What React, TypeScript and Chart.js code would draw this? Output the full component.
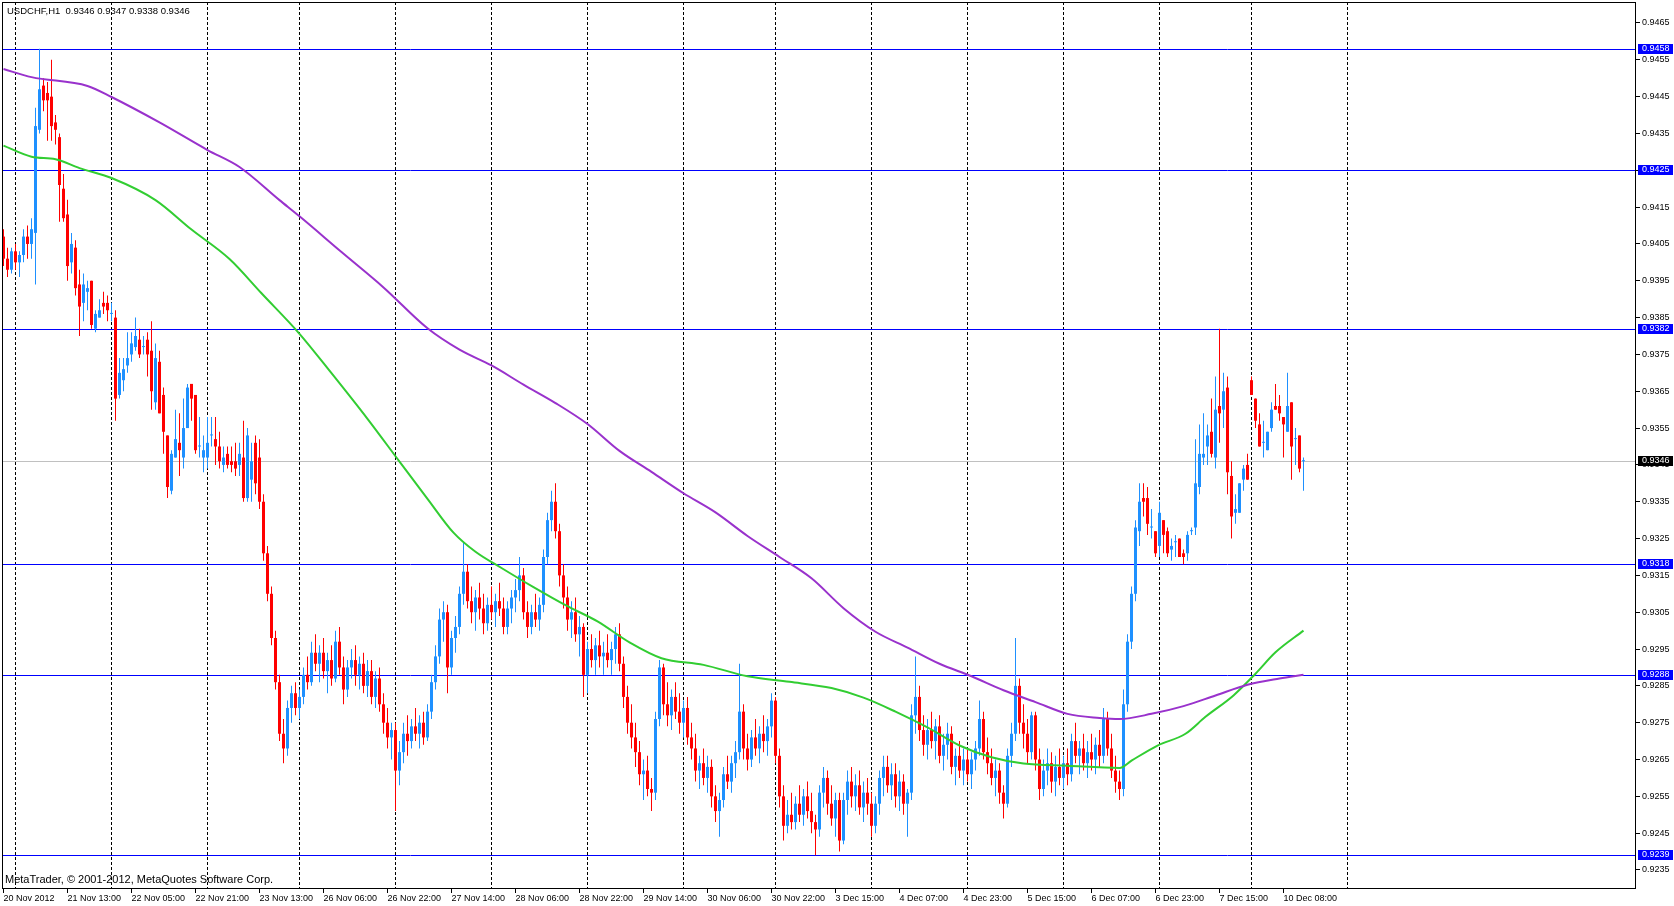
import React, { useEffect, useRef } from 'react';
import { Chart, registerables } from 'chart.js';

Chart.register(...registerables);

const chartTitle = 'USDCHF,H1  0.9346 0.9347 0.9338 0.9346';
const copyright = 'MetaTrader, © 2001-2012, MetaQuotes Software Corp.';

// hourly candles, [open, high, low, close] in pips (x 0.0001), first bar 20 Nov 21:00
const candles: number[][] = [
  [9407, 9409, 9399, 9401], [9401, 9404, 9396, 9398], [9398, 9404, 9397, 9403], [9403, 9405, 9398, 9400],
  [9400, 9403, 9396, 9402], [9402, 9409, 9400, 9407], [9407, 9410, 9401, 9405], [9405, 9412, 9401, 9409],
  [9408, 9442, 9394, 9437], [9436, 9458, 9435, 9447], [9448, 9450, 9441, 9444], [9446, 9449, 9433, 9444],
  [9445, 9455, 9433, 9437], [9438, 9440, 9432, 9436], [9434, 9435, 9411, 9421], [9420, 9424, 9411, 9412],
  [9413, 9417, 9395, 9399], [9400, 9408, 9397, 9405], [9404, 9406, 9391, 9393], [9394, 9398, 9380, 9388],
  [9389, 9397, 9384, 9394], [9392, 9395, 9387, 9393], [9395, 9395, 9382, 9383], [9382, 9387, 9381, 9386],
  [9385, 9390, 9385, 9387], [9389, 9392, 9386, 9388], [9389, 9391, 9384, 9387], [9386, 9389, 9384, 9386],
  [9385, 9387, 9357, 9363], [9364, 9374, 9363, 9370], [9368, 9374, 9365, 9371], [9372, 9381, 9370, 9374],
  [9375, 9381, 9373, 9378], [9377, 9385, 9376, 9380], [9379, 9382, 9374, 9375], [9377, 9380, 9375, 9377],
  [9379, 9381, 9369, 9375], [9376, 9384, 9360, 9365], [9362, 9378, 9360, 9374], [9373, 9376, 9359, 9359],
  [9364, 9366, 9348, 9354], [9353, 9353, 9336, 9339], [9338, 9349, 9337, 9348], [9347, 9360, 9347, 9352],
  [9351, 9359, 9342, 9349], [9347, 9363, 9344, 9355], [9355, 9367, 9355, 9366], [9367, 9367, 9357, 9363],
  [9364, 9364, 9348, 9349], [9350, 9358, 9347, 9350], [9347, 9353, 9343, 9349], [9347, 9358, 9344, 9351],
  [9353, 9358, 9350, 9353], [9352, 9358, 9345, 9350], [9350, 9354, 9344, 9346], [9345, 9350, 9343, 9347],
  [9348, 9350, 9344, 9345], [9346, 9350, 9343, 9345], [9346, 9351, 9342, 9344], [9345, 9351, 9342, 9348],
  [9347, 9357, 9335, 9336], [9336, 9355, 9335, 9353], [9341, 9351, 9335, 9346], [9351, 9353, 9337, 9340],
  [9347, 9352, 9333, 9335], [9335, 9337, 9319, 9321], [9321, 9323, 9308, 9310], [9310, 9312, 9296, 9298],
  [9298, 9300, 9284, 9286], [9286, 9288, 9270, 9272], [9272, 9276, 9264, 9268], [9268, 9281, 9266, 9279],
  [9279, 9285, 9275, 9283], [9283, 9286, 9277, 9279], [9279, 9284, 9276, 9282], [9282, 9290, 9280, 9288],
  [9288, 9293, 9284, 9286], [9286, 9297, 9285, 9294], [9294, 9299, 9289, 9291], [9291, 9296, 9286, 9294],
  [9294, 9298, 9287, 9289], [9289, 9294, 9283, 9292], [9292, 9296, 9285, 9287], [9287, 9300, 9286, 9297],
  [9297, 9301, 9288, 9290], [9290, 9293, 9280, 9284], [9284, 9292, 9282, 9290], [9290, 9295, 9287, 9292],
  [9292, 9296, 9285, 9288], [9288, 9293, 9284, 9291], [9291, 9294, 9283, 9285], [9285, 9292, 9282, 9289],
  [9289, 9292, 9280, 9282], [9282, 9289, 9279, 9287], [9287, 9290, 9278, 9280], [9280, 9283, 9272, 9275],
  [9275, 9279, 9268, 9271], [9271, 9275, 9265, 9273], [9273, 9275, 9251, 9262], [9262, 9270, 9258, 9267],
  [9267, 9275, 9264, 9272], [9272, 9277, 9266, 9270], [9270, 9276, 9268, 9274], [9274, 9279, 9270, 9272],
  [9272, 9277, 9268, 9275], [9275, 9278, 9269, 9271], [9271, 9280, 9270, 9278], [9278, 9288, 9276, 9286],
  [9286, 9296, 9284, 9293], [9293, 9306, 9291, 9303], [9303, 9308, 9297, 9305], [9305, 9307, 9283, 9290],
  [9290, 9300, 9288, 9298], [9298, 9304, 9294, 9301], [9301, 9312, 9299, 9310], [9310, 9324, 9307, 9316],
  [9316, 9318, 9306, 9308], [9308, 9312, 9302, 9305], [9305, 9311, 9300, 9309], [9309, 9313, 9303, 9306],
  [9306, 9310, 9299, 9302], [9302, 9309, 9300, 9307], [9307, 9312, 9303, 9305], [9305, 9310, 9301, 9308],
  [9308, 9313, 9304, 9306], [9306, 9309, 9299, 9301], [9301, 9308, 9299, 9306], [9306, 9311, 9302, 9309],
  [9309, 9314, 9305, 9311], [9311, 9320, 9308, 9315], [9315, 9317, 9303, 9305], [9305, 9308, 9298, 9301],
  [9301, 9307, 9299, 9305], [9305, 9310, 9301, 9303], [9303, 9309, 9300, 9307], [9307, 9322, 9305, 9320],
  [9320, 9332, 9318, 9330], [9330, 9338, 9327, 9335], [9335, 9340, 9325, 9327], [9327, 9329, 9312, 9315],
  [9315, 9318, 9306, 9309], [9309, 9312, 9300, 9303], [9303, 9308, 9298, 9305], [9305, 9309, 9297, 9299],
  [9299, 9304, 9293, 9301], [9301, 9302, 9282, 9288], [9288, 9297, 9283, 9295], [9295, 9299, 9290, 9292],
  [9292, 9298, 9288, 9296], [9296, 9300, 9290, 9293], [9293, 9297, 9288, 9294], [9294, 9299, 9290, 9292],
  [9292, 9297, 9288, 9295], [9295, 9301, 9291, 9299], [9299, 9302, 9289, 9291], [9291, 9293, 9279, 9282],
  [9282, 9285, 9272, 9275], [9275, 9280, 9268, 9271], [9271, 9275, 9263, 9267], [9267, 9270, 9258, 9261],
  [9261, 9265, 9254, 9262], [9262, 9266, 9255, 9257], [9257, 9260, 9251, 9256], [9256, 9278, 9254, 9276],
  [9276, 9292, 9274, 9290], [9290, 9291, 9277, 9280], [9280, 9286, 9274, 9277], [9277, 9284, 9273, 9282],
  [9282, 9286, 9276, 9278], [9278, 9283, 9272, 9275], [9275, 9281, 9271, 9279], [9279, 9282, 9269, 9271],
  [9271, 9275, 9265, 9268], [9268, 9272, 9259, 9262], [9262, 9266, 9257, 9264], [9264, 9268, 9258, 9260],
  [9260, 9266, 9256, 9263], [9263, 9265, 9252, 9255], [9255, 9258, 9248, 9251], [9251, 9256, 9244, 9254],
  [9254, 9263, 9252, 9261], [9261, 9266, 9257, 9259], [9259, 9266, 9256, 9264], [9264, 9270, 9260, 9267],
  [9267, 9291, 9265, 9278], [9278, 9280, 9265, 9268], [9268, 9272, 9262, 9265], [9265, 9273, 9263, 9271],
  [9271, 9276, 9266, 9268], [9268, 9274, 9264, 9272], [9272, 9277, 9267, 9270], [9270, 9276, 9266, 9274],
  [9274, 9283, 9271, 9281], [9281, 9282, 9264, 9266], [9266, 9268, 9252, 9255], [9255, 9258, 9243, 9247],
  [9247, 9254, 9245, 9250], [9250, 9256, 9246, 9248], [9248, 9255, 9246, 9253], [9253, 9258, 9248, 9250],
  [9250, 9257, 9247, 9255], [9255, 9259, 9249, 9251], [9251, 9256, 9245, 9248], [9248, 9250, 9239, 9246],
  [9246, 9258, 9244, 9256], [9256, 9263, 9252, 9260], [9260, 9262, 9250, 9253], [9253, 9258, 9247, 9249],
  [9249, 9256, 9244, 9254], [9254, 9256, 9240, 9243], [9243, 9256, 9242, 9254], [9254, 9262, 9250, 9259],
  [9259, 9263, 9252, 9255], [9255, 9261, 9251, 9258], [9258, 9262, 9250, 9252], [9252, 9259, 9248, 9256],
  [9256, 9260, 9250, 9253], [9253, 9256, 9244, 9247], [9247, 9255, 9245, 9253], [9253, 9262, 9250, 9260],
  [9260, 9266, 9255, 9263], [9263, 9266, 9256, 9258], [9258, 9264, 9254, 9261], [9261, 9264, 9252, 9255],
  [9255, 9262, 9251, 9259], [9259, 9261, 9250, 9253], [9253, 9257, 9244, 9256], [9256, 9280, 9254, 9277],
  [9277, 9293, 9272, 9282], [9282, 9285, 9270, 9273], [9273, 9277, 9266, 9269], [9269, 9276, 9265, 9273],
  [9273, 9278, 9268, 9270], [9270, 9276, 9265, 9274], [9274, 9277, 9264, 9266], [9266, 9272, 9262, 9269],
  [9269, 9275, 9265, 9272], [9272, 9274, 9261, 9263], [9263, 9268, 9258, 9266], [9266, 9270, 9260, 9262],
  [9262, 9268, 9258, 9265], [9265, 9268, 9259, 9261], [9261, 9267, 9257, 9265], [9265, 9270, 9262, 9268],
  [9268, 9281, 9266, 9276], [9276, 9278, 9265, 9267], [9267, 9271, 9261, 9264], [9264, 9268, 9258, 9260],
  [9260, 9265, 9255, 9262], [9262, 9264, 9253, 9256], [9256, 9258, 9249, 9253], [9253, 9268, 9252, 9266],
  [9266, 9275, 9263, 9272], [9272, 9298, 9270, 9285], [9285, 9287, 9272, 9275], [9275, 9280, 9268, 9272],
  [9272, 9276, 9264, 9267], [9267, 9278, 9265, 9277], [9277, 9278, 9262, 9265], [9265, 9268, 9254, 9257],
  [9257, 9265, 9255, 9262], [9262, 9268, 9258, 9264], [9264, 9267, 9256, 9259], [9259, 9266, 9255, 9263],
  [9263, 9268, 9258, 9260], [9260, 9266, 9257, 9264], [9264, 9268, 9258, 9261], [9261, 9272, 9259, 9270],
  [9270, 9275, 9264, 9266], [9266, 9270, 9261, 9268], [9268, 9272, 9262, 9264], [9264, 9270, 9260, 9267],
  [9267, 9272, 9262, 9265], [9265, 9271, 9261, 9269], [9269, 9273, 9263, 9266], [9266, 9279, 9264, 9276],
  [9276, 9278, 9266, 9268], [9268, 9272, 9260, 9262], [9262, 9266, 9256, 9259], [9259, 9262, 9254, 9257],
  [9257, 9284, 9255, 9280], [9280, 9299, 9278, 9297], [9297, 9312, 9295, 9310], [9310, 9330, 9308, 9328],
  [9327, 9340, 9323, 9335], [9336, 9340, 9331, 9335], [9336, 9339, 9326, 9329], [9328, 9333, 9325, 9328],
  [9327, 9327, 9320, 9321], [9323, 9335, 9320, 9332], [9330, 9330, 9321, 9326], [9327, 9328, 9320, 9321],
  [9322, 9325, 9319, 9323], [9324, 9326, 9320, 9324], [9325, 9325, 9320, 9320], [9321, 9322, 9318, 9320],
  [9321, 9327, 9319, 9326], [9327, 9328, 9326, 9327], [9328, 9352, 9326, 9340], [9339, 9356, 9337, 9348],
  [9347, 9359, 9345, 9348], [9350, 9356, 9345, 9353], [9354, 9363, 9347, 9348], [9347, 9369, 9344, 9360],
  [9361, 9382, 9351, 9359], [9360, 9370, 9355, 9365], [9366, 9369, 9337, 9343], [9342, 9346, 9325, 9331],
  [9332, 9337, 9329, 9333], [9332, 9340, 9332, 9340], [9341, 9345, 9338, 9344], [9345, 9348, 9341, 9341],
  [9368, 9369, 9364, 9364], [9363, 9363, 9355, 9357], [9356, 9359, 9350, 9350], [9351, 9357, 9347, 9351],
  [9349, 9354, 9349, 9354], [9355, 9362, 9354, 9360], [9361, 9367, 9360, 9360], [9361, 9364, 9357, 9359],
  [9358, 9358, 9347, 9356], [9354, 9370, 9354, 9361], [9362, 9362, 9341, 9350], [9352, 9355, 9345, 9352],
  [9353, 9353, 9343, 9344], [9346, 9347, 9338, 9346],
];

// moving averages, [bar, price]
const maSlow = [
  [0, 0.94525], [7, 0.94503], [21, 0.94479], [27, 0.94449], [39, 0.94380], [51, 0.94305], [59, 0.94259],
  [69, 0.94169], [74, 0.94125], [84.5, 0.94028], [95, 0.93932], [106, 0.93821], [114, 0.93763],
  [122, 0.93720], [130, 0.93668], [138, 0.93618], [146, 0.93561], [154, 0.93488], [162, 0.93431],
  [170, 0.93373], [178, 0.93321], [186, 0.93257], [194, 0.93200], [202, 0.93142], [210, 0.93061],
  [218, 0.92997], [226, 0.92954], [234, 0.92910], [242, 0.92876], [250, 0.92838], [258, 0.92806],
  [266, 0.92774], [274, 0.92763], [279, 0.92760], [287, 0.92774], [295, 0.92795], [303, 0.92824],
  [311, 0.92853], [319, 0.92870], [325, 0.92880],
];
const maFast = [
  [0, 0.94317], [7, 0.94287], [13, 0.94280], [19, 0.94256], [27, 0.94229], [38, 0.94169], [47, 0.94089],
  [56.5, 0.94009], [64.5, 0.93916], [74, 0.93806], [82, 0.93699], [91, 0.93575], [99, 0.93459],
  [106, 0.93358], [112.5, 0.93266], [118, 0.93214], [124.5, 0.93170], [132.5, 0.93118], [140.5, 0.93069],
  [148.5, 0.93025], [156.5, 0.92968], [164.5, 0.92925], [175, 0.92907], [186, 0.92876], [196.5, 0.92861],
  [207, 0.92844], [215, 0.92818], [223, 0.92780], [231, 0.92737], [239, 0.92688], [247, 0.92656],
  [255, 0.92639], [266, 0.92633], [279, 0.92627], [282, 0.92647], [288.5, 0.92688], [295.5, 0.92720],
  [300.5, 0.92766], [307.5, 0.92824], [313, 0.92883], [318, 0.92941], [325, 0.93000],
];

const levels = [0.9458, 0.9425, 0.9382, 0.9318, 0.9288, 0.9239];
const bidPrice = 0.9346;

const yTicks = [
  0.9235, 0.9245, 0.9255, 0.9265, 0.9275, 0.9285, 0.9295, 0.9305, 0.9315, 0.9325, 0.9335, 0.9345,
  0.9355, 0.9365, 0.9375, 0.9385, 0.9395, 0.9405, 0.9415, 0.9425, 0.9435, 0.9445, 0.9455, 0.9465,
];
const xTickBars = [0, 16, 32, 48, 64, 80, 96, 112, 128, 144, 160, 176, 192, 208, 224, 240, 256, 272, 288, 304, 320];
const xTickLabels = [
  '20 Nov 2012', '21 Nov 13:00', '22 Nov 05:00', '22 Nov 21:00', '23 Nov 13:00', '26 Nov 06:00',
  '26 Nov 22:00', '27 Nov 14:00', '28 Nov 06:00', '28 Nov 22:00', '29 Nov 14:00', '30 Nov 06:00',
  '30 Nov 22:00', '3 Dec 15:00', '4 Dec 07:00', '4 Dec 23:00', '5 Dec 15:00', '6 Dec 07:00',
  '6 Dec 23:00', '7 Dec 15:00', '10 Dec 08:00',
];
// first bar of each trading day (dotted grid)
const dayStartBars = [3, 27, 51, 74, 98, 122, 146, 170, 193, 217, 241, 265, 289, 312, 336];

const PIP = 0.0001;
const X_MIN = -0.375;
const X_MAX = 408.125;
const Y_MIN = 0.922984;
const Y_MAX = 0.94707;

const BULL = '#1E90FF';
const BEAR = '#FF0000';
const FONT = '"Liberation Sans", Arial, sans-serif';

const candleColor = (ctx: any) => {
  const c = candles[ctx.dataIndex];
  return c && c[3] >= c[0] ? BULL : BEAR;
};

const overlay = {
  id: 'mtOverlay',
  beforeDatasetsDraw(chart: any) {
    const { ctx, chartArea: a, scales } = chart;
    ctx.save();
    ctx.lineWidth = 1;
    const hline = (v: number, color: string) => {
      const y = Math.round(scales.y.getPixelForValue(v)) + 0.5;
      ctx.strokeStyle = color;
      ctx.beginPath();
      ctx.moveTo(a.left, y);
      ctx.lineTo(a.right, y);
      ctx.stroke();
    };
    hline(bidPrice, '#C0C0C0');
    levels.forEach((v) => hline(v, '#0000FF'));
    ctx.restore();
  },
  afterDraw(chart: any) {
    const { ctx, chartArea: a, scales, width } = chart;
    ctx.save();
    ctx.strokeStyle = '#000';
    ctx.lineWidth = 1;
    ctx.strokeRect(a.left + 0.5, a.top + 0.5, a.right - a.left - 1, a.bottom - a.top - 1);

    ctx.font = `9px ${FONT}`;
    ctx.textBaseline = 'middle';
    const tag = (v: number, bg: string) => {
      const y = Math.round(scales.y.getPixelForValue(v));
      ctx.fillStyle = bg;
      ctx.fillRect(a.right + 2, y - 5, width - a.right - 3, 10);
      ctx.fillStyle = '#FFF';
      ctx.fillText(v.toFixed(4), a.right + 6, y);
    };
    levels.forEach((v) => tag(v, '#0000FF'));
    tag(bidPrice, '#000');

    ctx.fillStyle = '#000';
    ctx.font = `9.5px ${FONT}`;
    ctx.fillText(chartTitle, a.left + 5, 11);
    ctx.font = `11px ${FONT}`;
    ctx.fillText(copyright, a.left + 3, 880);
    ctx.restore();
  },
};

export default function App() {
  const canvasRef = useRef<HTMLCanvasElement>(null);

  useEffect(() => {
    document.body.style.margin = '0';
    const chart = new Chart(canvasRef.current as HTMLCanvasElement, {
      type: 'bar',
      data: {
        datasets: [
          {
            type: 'line',
            label: 'MA slow',
            data: maSlow.map(([x, y]) => ({ x, y })),
            borderColor: '#9932CC',
            borderWidth: 2,
            pointRadius: 0,
            cubicInterpolationMode: 'monotone',
            order: 1,
          },
          {
            type: 'line',
            label: 'MA fast',
            data: maFast.map(([x, y]) => ({ x, y })),
            borderColor: '#32CD32',
            borderWidth: 2,
            pointRadius: 0,
            cubicInterpolationMode: 'monotone',
            order: 1,
          },
          {
            type: 'bar',
            label: 'body',
            data: candles.map((c, i) => ({ x: i, y: [c[0] * PIP, c[3] * PIP] })),
            backgroundColor: candleColor,
            barThickness: 3,
            minBarLength: 1,
            grouped: false,
            borderWidth: 0,
            inflateAmount: 0,
            order: 2,
          },
          {
            type: 'bar',
            label: 'wick',
            data: candles.map((c, i) => ({ x: i, y: [c[2] * PIP, c[1] * PIP] })),
            backgroundColor: candleColor,
            barThickness: 1,
            grouped: false,
            borderWidth: 0,
            inflateAmount: 0,
            order: 3,
          },
        ] as any,
      },
      options: {
        responsive: false,
        devicePixelRatio: 1,
        animation: false,
        layout: { padding: { left: 2, top: 2, right: 0, bottom: 0 } },
        plugins: {
          legend: { display: false },
          tooltip: { enabled: false },
        },
        scales: {
          x: {
            type: 'linear',
            position: 'bottom',
            min: X_MIN,
            max: X_MAX,
            offset: false,
            afterBuildTicks: (s: any) => {
              s.ticks = xTickBars.map((value) => ({ value }));
            },
            afterFit: (s: any) => {
              s.height = 17;
              s.paddingLeft = 0;
              s.paddingRight = 0;
            },
            ticks: {
              autoSkip: false,
              maxRotation: 0,
              minRotation: 0,
              align: 'start',
              padding: 0,
              color: '#000',
              font: { family: FONT, size: 9 },
              callback: (_v: any, i: number) => xTickLabels[i] ?? '',
            },
            grid: { drawOnChartArea: false, offset: false, tickLength: 4, tickColor: '#000' },
            border: { display: false },
          },
          days: {
            type: 'linear',
            position: 'bottom',
            min: X_MIN,
            max: X_MAX,
            offset: false,
            afterBuildTicks: (s: any) => {
              s.ticks = dayStartBars.map((value) => ({ value }));
            },
            afterFit: (s: any) => {
              s.height = 0;
              s.paddingLeft = 0;
              s.paddingRight = 0;
            },
            ticks: { display: false },
            grid: { color: '#000', drawTicks: false, offset: false, lineWidth: 1 },
            border: { display: false, dash: [3, 2] },
          },
          y: {
            type: 'linear',
            position: 'right',
            min: Y_MIN,
            max: Y_MAX,
            afterBuildTicks: (s: any) => {
              s.ticks = yTicks.map((value) => ({ value }));
            },
            afterFit: (s: any) => {
              s.width = 38;
              s.paddingTop = 0;
              s.paddingBottom = 0;
            },
            ticks: {
              autoSkip: false,
              padding: 2,
              color: '#000',
              font: { family: FONT, size: 9 },
              callback: (v: any) => Number(v).toFixed(4),
            },
            grid: { drawOnChartArea: false, tickLength: 4, tickColor: '#000' },
            border: { display: false },
          },
        },
      } as any,
      plugins: [overlay],
    });
    return () => chart.destroy();
  }, []);

  return (
    <div style={{ width: 1674, height: 906, background: '#FFF' }}>
      <canvas ref={canvasRef} width={1674} height={906} />
    </div>
  );
}
